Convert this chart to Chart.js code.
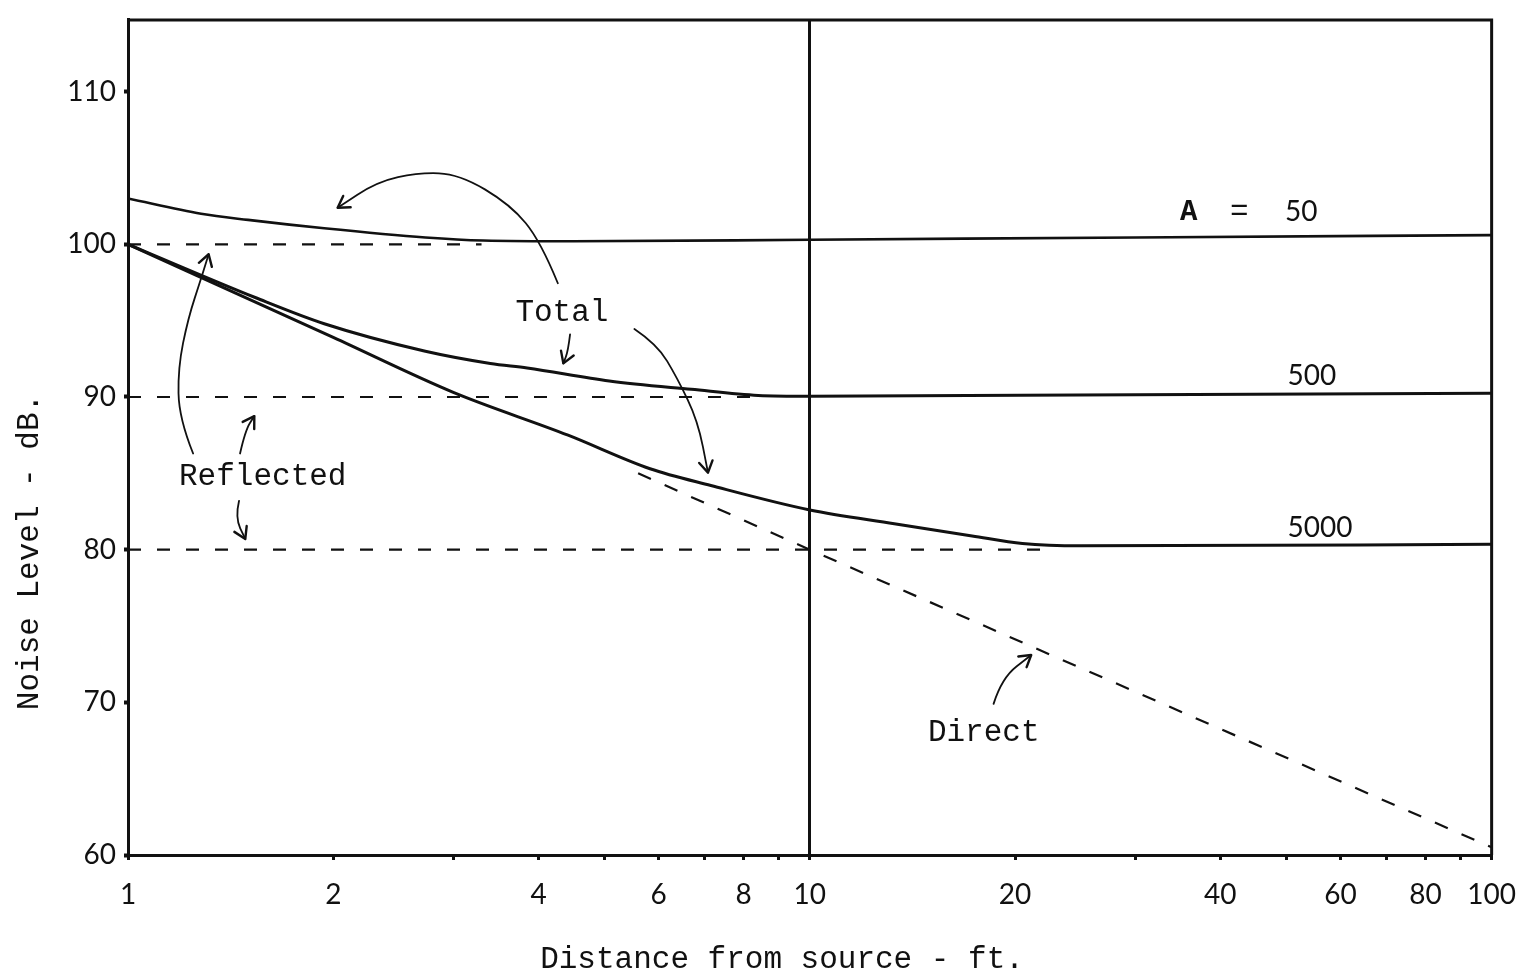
<!DOCTYPE html>
<html>
<head>
<meta charset="utf-8">
<title>Noise Level vs Distance</title>
<script src="https://cdn.jsdelivr.net/npm/chart.js@4.4.0/dist/chart.umd.min.js"></script>
<style>
  html, body { margin: 0; padding: 0; background: #fff; }
  #wrap { width: 1539px; height: 978px; }
</style>
</head>
<body>
<div id="wrap"><canvas id="noiseChart" width="1539" height="978"></canvas></div>
<script>
// Values (distance in ft, level in dB)
const a50Dist = [1, 1.28, 1.5, 1.94, 2.73, 3.32, 4.5, 10, 30, 100];
const a50Total = [103.0, 102.0, 101.6, 101.05, 100.45, 100.25, 100.2, 100.3, 100.45, 100.6];

const a500Dist = [1, 1.54, 1.94, 2.73, 3.4, 3.85, 5.08, 6.7, 8.4, 10, 30, 100];
const a500Total = [100.0, 96.5, 94.8, 93.0, 92.2, 91.9, 91.05, 90.5, 90.1, 90.05, 90.15, 90.25];

const a5000Dist = [1, 2, 3, 4.42, 5.83, 7.16, 10, 13.3, 17.3, 20.5, 25, 100];
const a5000Total = [100.0, 93.9, 90.3, 87.5, 85.3, 84.2, 82.6, 81.7, 80.9, 80.4, 80.25, 80.35];

const directDist = [5.6, 10, 100];
const directLevel = [85.0, 80.0, 60.5];

const refl50Dist = [1, 3.3];
const refl50Level = [100, 100];
const refl500Dist = [1, 8.4];
const refl500Level = [90, 90];
const refl5000Dist = [1, 22];
const refl5000Level = [80, 80];

const xTickValues = [1, 2, 3, 4, 5, 6, 7, 8, 9, 10, 20, 30, 40, 50, 60, 70, 80, 90, 100];
const xTickLabels = ['1', '2', '4', '6', '8', '10', '20', '40', '60', '80', '100'];
const yTickValues = [60, 70, 80, 90, 100, 110];

const monoFont = '"Liberation Mono", "DejaVu Sans Mono", monospace';
const tickFont = 'Lato, "DejaVu Sans", sans-serif';
const ink = '#111';

function toPoints(xs, ys) {
  var pts = [];
  for (var i = 0; i < xs.length; i++) {
    pts.push({ x: xs[i], y: ys[i] });
  }
  return pts;
}

function solid(label, xs, ys, width) {
  return {
    label: label,
    data: toPoints(xs, ys),
    borderColor: ink,
    borderWidth: width,
    pointRadius: 0,
    fill: false,
    cubicInterpolationMode: 'monotone'
  };
}

function dashed(label, xs, ys, dash) {
  return {
    label: label,
    data: toPoints(xs, ys),
    borderColor: ink,
    borderWidth: 2.2,
    borderDash: dash,
    pointRadius: 0,
    fill: false
  };
}

// Hand-written notes and arrows, in data units (ft, dB)
const notes = [
  { text: 'Total', x: 3.70, y: 95.5 },
  { text: 'Reflected', x: 1.188, y: 84.8 },
  { text: 'Direct', x: 14.9, y: 68.0 }
];
const curveLabels = [
  { text: '500', x: 50.2, y: 91.4 },
  { text: '5000', x: 50.2, y: 81.45 }
];
const arrows = [
  [[4.27, 97.45], [4.03, 100.2], [3.64, 102.6], [3.06, 104.6], [2.67, 104.7], [2.32, 104.1], [2.03, 102.4]],
  [[4.45, 94.1], [4.42, 93.0], [4.35, 92.2]],
  [[5.53, 94.45], [5.97, 93.45], [6.39, 91.25], [6.85, 88.45], [7.09, 85.05]],
  [[1.246, 86.3], [1.188, 88.6], [1.184, 91.9], [1.225, 95.15], [1.281, 97.8], [1.313, 99.35]],
  [[1.46, 86.3], [1.486, 87.8], [1.532, 88.75]],
  [[1.455, 83.2], [1.436, 82.1], [1.486, 80.7]],
  [[18.6, 69.9], [19.12, 71.6], [21.12, 73.1]]
];

const sketchPlugin = {
  id: 'sketch',
  afterDatasetsDraw: function (chart) {
    var ctx = chart.ctx;
    var xs = chart.scales.x;
    var ys = chart.scales.y;
    var area = chart.chartArea;
    ctx.save();

    // top and right frame
    ctx.strokeStyle = ink;
    ctx.lineWidth = 3;
    ctx.beginPath();
    ctx.moveTo(area.left, area.top);
    ctx.lineTo(area.right, area.top);
    ctx.lineTo(area.right, area.bottom);
    ctx.stroke();

    // arrows
    ctx.lineWidth = 1.8;
    ctx.lineCap = 'round';
    ctx.lineJoin = 'round';
    arrows.forEach(function (a) {
      var p = a.map(function (v) { return [xs.getPixelForValue(v[0]), ys.getPixelForValue(v[1])]; });
      ctx.beginPath();
      ctx.moveTo(p[0][0], p[0][1]);
      for (var i = 1; i < p.length - 1; i++) {
        var mx = (p[i][0] + p[i + 1][0]) / 2;
        var my = (p[i][1] + p[i + 1][1]) / 2;
        ctx.quadraticCurveTo(p[i][0], p[i][1], mx, my);
      }
      var end = p[p.length - 1];
      var prev = p[p.length - 2];
      ctx.lineTo(end[0], end[1]);
      ctx.stroke();
      var ang = Math.atan2(end[1] - prev[1], end[0] - prev[0]);
      ctx.lineWidth = 2.4;
      ctx.beginPath();
      ctx.moveTo(end[0] - 13 * Math.cos(ang - 0.55), end[1] - 13 * Math.sin(ang - 0.55));
      ctx.lineTo(end[0], end[1]);
      ctx.lineTo(end[0] - 13 * Math.cos(ang + 0.55), end[1] - 13 * Math.sin(ang + 0.55));
      ctx.stroke();
      ctx.lineWidth = 1.8;
    });

    // typed notes
    ctx.fillStyle = ink;
    ctx.textBaseline = 'middle';
    ctx.textAlign = 'left';
    ctx.font = '31px ' + monoFont;
    notes.forEach(function (n) {
      ctx.fillText(n.text, xs.getPixelForValue(n.x), ys.getPixelForValue(n.y));
    });

    // curve labels
    var ax = xs.getPixelForValue(34.9);
    var ay = ys.getPixelForValue(102.1);
    ctx.font = 'bold 29px ' + monoFont;
    ctx.fillText('A', ax, ay);
    ctx.font = '31px ' + monoFont;
    ctx.fillText('=', ax + 50, ay);
    ctx.font = '28px ' + tickFont;
    ctx.fillText('50', ax + 105, ay);
    curveLabels.forEach(function (c) {
      ctx.fillText(c.text, xs.getPixelForValue(c.x), ys.getPixelForValue(c.y));
    });

    // axis titles
    ctx.font = '31px ' + monoFont;
    ctx.textAlign = 'center';
    ctx.fillText('Distance from source - ft.', 782, 960);
    ctx.translate(30, 552);
    ctx.rotate(-Math.PI / 2);
    ctx.fillText('Noise Level - dB.', 0, 0);
    ctx.restore();
  }
};

const ctx = document.getElementById('noiseChart').getContext('2d');
const noiseChart = new Chart(ctx, {
  type: 'line',
  data: {
    datasets: [
      dashed('Reflected A=50', refl50Dist, refl50Level, [13, 16]),
      dashed('Reflected A=500', refl500Dist, refl500Level, [13, 16]),
      dashed('Reflected A=5000', refl5000Dist, refl5000Level, [13, 16]),
      dashed('Direct', directDist, directLevel, [14, 15]),
      solid('Total A=50', a50Dist, a50Total, 2.6),
      solid('Total A=500', a500Dist, a500Total, 3),
      solid('Total A=5000', a5000Dist, a5000Total, 3)
    ]
  },
  options: {
    responsive: false,
    animation: false,
    layout: { padding: { top: 0, right: 46, left: 0, bottom: 0 } },
    plugins: {
      legend: { display: false },
      tooltip: { enabled: false }
    },
    scales: {
      x: {
        type: 'logarithmic',
        min: 1,
        max: 100,
        afterBuildTicks: function (scale) {
          scale.ticks = xTickValues.map(function (v) { return { value: v }; });
        },
        afterFit: function (scale) { scale.height = 123; },
        border: { display: true, color: ink, width: 3 },
        grid: {
          color: function (c) { return c.tick && c.tick.value === 10 ? ink : 'rgba(0,0,0,0)'; },
          lineWidth: 3,
          drawTicks: true,
          tickLength: 5,
          tickWidth: 3,
          tickColor: ink
        },
        ticks: {
          autoSkip: false,
          maxRotation: 0,
          padding: 23,
          color: ink,
          font: { family: tickFont, size: 28, weight: '400', lineHeight: 0.85 },
          callback: function (value) {
            var s = String(value);
            return xTickLabels.indexOf(s) >= 0 ? s : '';
          }
        }
      },
      y: {
        min: 60,
        max: 114.7,
        afterBuildTicks: function (scale) {
          scale.ticks = yTickValues.map(function (v) { return { value: v }; });
        },
        afterFit: function (scale) { scale.width = 128; },
        border: { display: true, color: ink, width: 3 },
        grid: {
          color: 'rgba(0,0,0,0)',
          drawTicks: true,
          tickLength: 4,
          tickWidth: 4,
          tickColor: ink
        },
        ticks: {
          padding: 8,
          color: ink,
          font: { family: tickFont, size: 28, weight: '400', lineHeight: 0.85 }
        }
      }
    }
  },
  plugins: [sketchPlugin]
});
</script>
</body>
</html>
